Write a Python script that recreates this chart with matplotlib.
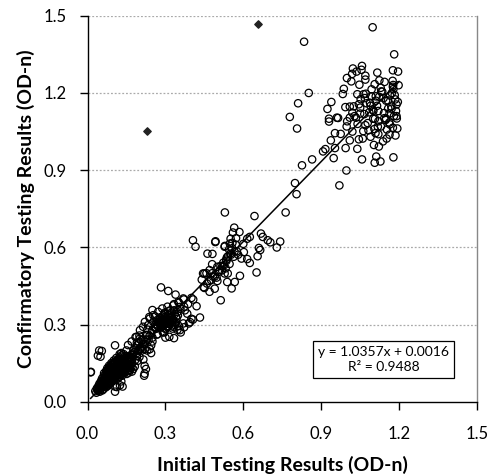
import matplotlib
matplotlib.use("Agg")
import matplotlib.pyplot as plt
import numpy as np

plt.rcParams['font.family'] = ['Lato', 'DejaVu Sans']

# ---------------- data ----------------
# dense low cluster (0 - 0.25)
x_low = [0.030, 0.038, 0.047, 0.036, 0.044, 0.053, 0.061, 0.042, 0.051, 0.058, 0.067, 0.079,
         0.046, 0.057, 0.064, 0.073, 0.086, 0.052, 0.061, 0.069, 0.081, 0.092, 0.101,
         0.056, 0.066, 0.074, 0.087, 0.094, 0.106, 0.117, 0.062, 0.071, 0.083, 0.091, 0.099,
         0.112, 0.121, 0.133, 0.064, 0.077, 0.086, 0.097, 0.104, 0.116, 0.127, 0.142, 0.151,
         0.072, 0.081, 0.093, 0.101, 0.109, 0.118, 0.131, 0.139, 0.157, 0.171,
         0.076, 0.088, 0.096, 0.107, 0.114, 0.126, 0.137, 0.146, 0.162, 0.176,
         0.083, 0.091, 0.103, 0.111, 0.122, 0.132, 0.141, 0.152, 0.166, 0.182,
         0.092, 0.099, 0.108, 0.121, 0.129, 0.138, 0.148, 0.161, 0.172,
         0.101, 0.113, 0.119, 0.128, 0.143, 0.152, 0.163, 0.111, 0.126, 0.139, 0.156, 0.171,
         0.131, 0.149, 0.168, 0.012, 0.013, 0.045, 0.055, 0.040, 0.050, 0.106, 0.125, 0.113,
         0.106, 0.135, 0.130, 0.225, 0.218, 0.193, 0.220, 0.220, 0.156, 0.185, 0.200, 0.220,
         0.250, 0.230, 0.210, 0.190, 0.170, 0.150, 0.130, 0.106, 0.190, 0.200, 0.215, 0.245,
         0.175, 0.160, 0.190, 0.205, 0.138, 0.115, 0.098, 0.089, 0.124, 0.147, 0.183]
y_low = [0.042, 0.047, 0.040, 0.053, 0.051, 0.055, 0.049, 0.062, 0.058, 0.066, 0.061, 0.063,
         0.071, 0.068, 0.075, 0.072, 0.069, 0.081, 0.078, 0.084, 0.083, 0.079, 0.086,
         0.091, 0.088, 0.094, 0.092, 0.089, 0.095, 0.091, 0.101, 0.098, 0.103, 0.099, 0.104,
         0.101, 0.097, 0.102, 0.112, 0.109, 0.114, 0.108, 0.113, 0.111, 0.106, 0.112, 0.109,
         0.121, 0.118, 0.123, 0.119, 0.124, 0.122, 0.117, 0.125, 0.121, 0.118,
         0.131, 0.128, 0.134, 0.129, 0.133, 0.131, 0.127, 0.135, 0.132, 0.128,
         0.141, 0.138, 0.143, 0.139, 0.144, 0.141, 0.137, 0.145, 0.142, 0.138,
         0.151, 0.148, 0.153, 0.149, 0.154, 0.151, 0.147, 0.155, 0.151,
         0.161, 0.158, 0.164, 0.159, 0.163, 0.161, 0.157, 0.171, 0.168, 0.173, 0.169, 0.166,
         0.181, 0.178, 0.183, 0.115, 0.117, 0.200, 0.198, 0.180, 0.176, 0.040, 0.065, 0.058,
         0.060, 0.060, 0.080, 0.128, 0.102, 0.160, 0.140, 0.110, 0.221, 0.252, 0.258, 0.225,
         0.250, 0.200, 0.200, 0.220, 0.235, 0.200, 0.190, 0.220, 0.190, 0.175, 0.165, 0.190,
         0.188, 0.172, 0.178, 0.205, 0.146, 0.152, 0.131, 0.118, 0.186, 0.141, 0.162]

# extra points in the solid black blob near the origin
x_blob = [0.034, 0.041, 0.049, 0.057,
          0.043, 0.052, 0.063, 0.071,
          0.048, 0.059, 0.068, 0.077, 0.088,
          0.054, 0.063, 0.072, 0.083, 0.097,
          0.059, 0.069, 0.078, 0.089, 0.096, 0.108,
          0.066, 0.074, 0.082, 0.093, 0.103, 0.113, 0.124,
          0.069, 0.079, 0.088, 0.098, 0.107, 0.119, 0.129, 0.137,
          0.074, 0.084, 0.092, 0.103, 0.111, 0.122, 0.134, 0.144, 0.159,
          0.079, 0.087, 0.098, 0.106, 0.117, 0.127, 0.136, 0.149, 0.164,
          0.086, 0.094, 0.104, 0.116, 0.124, 0.135, 0.144, 0.156, 0.169,
          0.095, 0.105, 0.114, 0.125, 0.134, 0.146, 0.158,
          0.105, 0.117, 0.124, 0.136, 0.147, 0.159,
          0.118, 0.133, 0.145, 0.161,
          0.139, 0.157,
          0.172, 0.181, 0.195, 0.204, 0.213, 0.186, 0.198, 0.228, 0.239, 0.207, 0.164, 0.177]
y_blob = [0.036, 0.044, 0.046, 0.045,
          0.057, 0.062, 0.059, 0.057,
          0.066, 0.072, 0.070, 0.067, 0.074,
          0.077, 0.081, 0.087, 0.077, 0.082,
          0.085, 0.093, 0.087, 0.096, 0.084, 0.093,
          0.097, 0.106, 0.096, 0.107, 0.094, 0.106, 0.099,
          0.107, 0.115, 0.105, 0.117, 0.103, 0.116, 0.108, 0.114,
          0.116, 0.124, 0.113, 0.126, 0.116, 0.128, 0.114, 0.122, 0.114,
          0.126, 0.134, 0.128, 0.137, 0.126, 0.138, 0.122, 0.129, 0.125,
          0.136, 0.145, 0.135, 0.147, 0.136, 0.146, 0.132, 0.141, 0.135,
          0.146, 0.156, 0.144, 0.158, 0.146, 0.156, 0.143,
          0.156, 0.166, 0.153, 0.165, 0.154, 0.163,
          0.165, 0.176, 0.163, 0.174,
          0.186, 0.175,
          0.181, 0.194, 0.198, 0.212, 0.226, 0.209, 0.232, 0.243, 0.257, 0.239, 0.176, 0.201]

# cluster around 0.2 - 0.45
x_mid = [0.283, 0.311, 0.339, 0.371, 0.400, 0.420, 0.433, 0.400, 0.384, 0.372, 0.352, 0.333,
         0.308, 0.288, 0.250, 0.260, 0.238, 0.275, 0.293, 0.320, 0.340, 0.352, 0.346, 0.328,
         0.308, 0.283, 0.295, 0.315, 0.300, 0.333, 0.359, 0.372, 0.390, 0.406, 0.270, 0.250,
         0.230, 0.215, 0.235, 0.200, 0.190, 0.210, 0.200, 0.220, 0.240, 0.245, 0.250, 0.221,
         0.202, 0.189, 0.226, 0.267, 0.290, 0.330, 0.356, 0.369, 0.395, 0.375, 0.356, 0.387,
         0.407, 0.369, 0.350, 0.330, 0.318, 0.298, 0.272, 0.253, 0.240, 0.279, 0.305, 0.324,
         0.343, 0.285, 0.259, 0.311, 0.272, 0.292, 0.253, 0.233, 0.214, 0.262, 0.281, 0.297,
         0.318, 0.268, 0.302, 0.289, 0.277, 0.295, 0.312, 0.326, 0.337, 0.264, 0.246, 0.231,
         0.262, 0.271, 0.284, 0.293, 0.301, 0.309, 0.317, 0.326,
         0.268, 0.279, 0.288, 0.297, 0.306, 0.314, 0.323, 0.335,
         0.276, 0.287, 0.296, 0.304, 0.316, 0.329, 0.341,
         0.281, 0.292, 0.303, 0.313, 0.322, 0.336, 0.348,
         0.298, 0.311, 0.321, 0.334, 0.346, 0.358]
y_mid = [0.445, 0.431, 0.417, 0.398, 0.404, 0.372, 0.328, 0.323, 0.343, 0.370, 0.385, 0.380,
         0.370, 0.363, 0.357, 0.333, 0.330, 0.310, 0.320, 0.326, 0.310, 0.295, 0.280, 0.285,
         0.292, 0.292, 0.270, 0.253, 0.250, 0.248, 0.270, 0.290, 0.305, 0.320, 0.263, 0.280,
         0.260, 0.243, 0.240, 0.245, 0.230, 0.215, 0.205, 0.205, 0.205, 0.220, 0.235, 0.311,
         0.279, 0.253, 0.260, 0.262, 0.271, 0.292, 0.279, 0.305, 0.310, 0.356, 0.369, 0.380,
         0.398, 0.402, 0.388, 0.375, 0.356, 0.343, 0.350, 0.337, 0.324, 0.324, 0.317, 0.330,
         0.324, 0.298, 0.292, 0.295, 0.311, 0.307, 0.311, 0.298, 0.292, 0.301, 0.296, 0.302,
         0.311, 0.318, 0.286, 0.316, 0.305, 0.329, 0.304, 0.313, 0.299, 0.284, 0.268, 0.281,
         0.287, 0.294, 0.289, 0.296, 0.283, 0.291, 0.302, 0.297,
         0.301, 0.306, 0.299, 0.312, 0.305, 0.309, 0.314, 0.308,
         0.318, 0.313, 0.321, 0.316, 0.324, 0.319, 0.331,
         0.329, 0.336, 0.327, 0.338, 0.333, 0.341, 0.336,
         0.347, 0.352, 0.344, 0.356, 0.349, 0.362]

# cluster around 0.4 - 0.75
x_up = [0.529, 0.643, 0.406, 0.416, 0.492, 0.528, 0.565, 0.585, 0.560, 0.551, 0.572, 0.625,
        0.615, 0.668, 0.675, 0.694, 0.704, 0.742, 0.729, 0.600, 0.660, 0.493, 0.462, 0.481,
        0.529, 0.550, 0.563, 0.593, 0.615, 0.625, 0.655, 0.665, 0.651, 0.587, 0.567, 0.555,
        0.538, 0.528, 0.513, 0.480, 0.480, 0.458, 0.450, 0.450, 0.470, 0.490, 0.500, 0.468,
        0.440, 0.447, 0.510, 0.445, 0.470, 0.500, 0.526, 0.540, 0.476, 0.460, 0.545, 0.575,
        0.580, 0.535, 0.519, 0.548, 0.557, 0.505, 0.490, 0.602, 0.571, 0.537,
        0.512, 0.523, 0.534, 0.541, 0.553, 0.518, 0.532, 0.547, 0.497, 0.483, 0.566, 0.558]
y_up = [0.736, 0.722, 0.628, 0.603, 0.621, 0.603, 0.677, 0.660, 0.658, 0.634, 0.636, 0.641,
        0.634, 0.654, 0.641, 0.628, 0.620, 0.623, 0.600, 0.614, 0.598, 0.624, 0.576, 0.575,
        0.606, 0.576, 0.564, 0.557, 0.555, 0.540, 0.566, 0.590, 0.503, 0.490, 0.466, 0.441,
        0.466, 0.499, 0.395, 0.535, 0.500, 0.500, 0.499, 0.443, 0.428, 0.440, 0.470, 0.470,
        0.475, 0.446, 0.512, 0.499, 0.512, 0.525, 0.531, 0.499, 0.473, 0.460, 0.592, 0.585,
        0.572, 0.548, 0.528, 0.615, 0.597, 0.505, 0.487, 0.582, 0.611, 0.562,
        0.528, 0.541, 0.553, 0.566, 0.572, 0.511, 0.519, 0.536, 0.483, 0.487, 0.584, 0.618]

# high cluster (0.75 - 1.2)
x_high = [1.098, 0.834, 1.181, 1.176, 1.196, 1.116, 1.022, 1.055, 1.057, 1.019, 1.036, 1.070,
          0.999, 1.016, 1.070, 1.124, 1.144, 1.106, 1.129, 1.175, 1.177, 1.198, 0.987, 0.983,
          0.852, 1.039, 1.063, 1.093, 1.110, 0.811, 0.779, 0.924, 0.939, 0.993, 1.010, 1.020,
          1.050, 1.045, 1.090, 1.110, 1.120, 1.150, 1.170, 1.190, 1.163, 1.180, 0.930, 0.960,
          1.010, 1.107, 0.807, 0.930, 0.965, 0.937, 0.953, 0.975, 0.907, 0.916, 0.953, 0.948,
          0.865, 0.826, 0.799, 0.805, 0.763, 0.997, 0.970, 0.994, 1.039, 1.057, 1.106, 1.128,
          1.112, 1.178, 1.103, 1.122, 1.163, 1.176, 1.193, 1.152, 1.060, 1.090, 1.120, 1.010,
          1.020, 0.998, 1.040, 1.070, 1.130, 1.120, 1.150, 1.100, 1.190, 1.000, 1.085, 1.140,
          1.165, 1.185, 1.075, 1.045, 1.105, 1.158, 1.172, 1.135, 1.195, 1.068, 1.028, 1.148,
          1.188, 1.115, 1.082, 1.178, 1.162, 1.098, 1.050, 1.138,
          1.052, 1.088, 1.123, 1.157, 1.183, 1.066, 1.101, 1.142, 1.171, 1.034, 1.079, 1.118,
          1.164, 1.191, 1.047, 1.094, 1.131, 1.176, 1.062, 1.109, 1.153, 1.186, 1.025, 1.072,
          1.143]
y_high = [1.455, 1.399, 1.350, 1.288, 1.283, 1.279, 1.295, 1.290, 1.305, 1.274, 1.283, 1.267,
          1.258, 1.245, 1.252, 1.249, 1.243, 1.234, 1.220, 1.247, 1.231, 1.230, 1.216, 1.196,
          1.200, 1.195, 1.195, 1.187, 1.187, 1.160, 1.107, 1.138, 1.165, 1.145, 1.147, 1.123,
          1.143, 1.156, 1.150, 1.170, 1.130, 1.170, 1.147, 1.155, 1.120, 1.110, 1.100, 1.104,
          1.104, 1.100, 1.062, 1.089, 1.103, 1.016, 1.044, 1.041, 0.973, 0.982, 0.986, 0.947,
          0.942, 0.919, 0.850, 0.807, 0.736, 0.899, 0.841, 0.986, 0.983, 0.942, 0.929, 0.934,
          0.953, 0.950, 0.998, 0.992, 1.038, 1.065, 1.062, 1.023, 1.023, 1.030, 1.040, 1.016,
          1.050, 1.070, 1.080, 1.075, 1.070, 1.090, 1.100, 1.100, 1.110, 1.090, 1.125, 1.180,
          1.190, 1.175, 1.160, 1.020, 1.060, 1.140, 1.200, 1.205, 1.165, 1.180, 1.110, 1.095,
          1.130, 1.150, 1.055, 1.215, 1.085, 1.135, 1.120, 1.012,
          1.176, 1.162, 1.185, 1.171, 1.192, 1.118, 1.131, 1.122, 1.139, 1.104, 1.083, 1.069,
          1.078, 1.101, 1.232, 1.214, 1.206, 1.224, 1.052, 1.044, 1.058, 1.035, 1.148, 1.197,
          1.102]

# filled outlier markers
x_out = [0.229, 0.656]
y_out = [1.054, 1.469]

# linear fit
slope, intercept, r2 = 1.0357, 0.0016, 0.9488
fit_x = [0.012, 1.2]

x_ticks = [0.0, 0.3, 0.6, 0.9, 1.2, 1.5]
y_ticks = [0.0, 0.3, 0.6, 0.9, 1.2, 1.5]

# ---------------- plot ----------------
fig = plt.figure(figsize=(4.9, 4.76), dpi=100)
ax = fig.add_axes([0.1786, 0.1555, 0.9735 - 0.1786, 0.967 - 0.1555])

xs = np.array(x_low + x_blob + x_mid + x_up + x_high)
ys = np.array(y_low + y_blob + y_mid + y_up + y_high)
ax.scatter(xs, ys, s=28, facecolors='none', edgecolors='black', linewidths=0.9, zorder=3)
ax.scatter(x_out, y_out, s=14, marker='D', color='#222222', zorder=4)

fx = np.array(fit_x)
ax.plot(fx, slope * fx + intercept, color='black', lw=1.1, zorder=5)

ax.set_xlim(0, 1.5)
ax.set_ylim(0, 1.5)
ax.set_xticks(x_ticks)
ax.set_yticks(y_ticks)
ax.set_xticklabels([f"{t:.1f}" for t in x_ticks])
ax.set_yticklabels([f"{t:.1f}" for t in y_ticks])

for yv in y_ticks[1:]:
    ax.axhline(yv, color='#aaaaaa', lw=0.9, ls=(0, (1.5, 1.5)), zorder=1)

for s in ['left', 'bottom']:
    ax.spines[s].set_color('black')
    ax.spines[s].set_linewidth(1.0)
ax.spines['right'].set_color('#888888')
ax.spines['right'].set_linewidth(1.0)
ax.spines['top'].set_visible(False)

ax.tick_params(axis='x', direction='out', length=6, width=1.0, labelsize=12,
               colors='black', pad=11)
ax.tick_params(axis='y', direction='out', length=6, width=1.0, labelsize=12,
               colors='black', pad=9)

ax.set_xlabel('Initial Testing Results (OD-n)', fontsize=14, fontweight='bold', labelpad=10)
ax.set_ylabel('Confirmatory Testing Results (OD-n)', fontsize=14, fontweight='bold', labelpad=6)

ax.text(0.76, 0.145, f"y = {slope:.4f}x + {intercept:.4f}\nR\u00b2 = {r2:.4f}",
        transform=ax.transAxes, ha='center', va='top', fontsize=10, linespacing=1.3,
        bbox=dict(boxstyle='square,pad=0.35', facecolor='white', edgecolor='black', lw=0.9),
        zorder=6)

fig.savefig('out.png', dpi=100)
